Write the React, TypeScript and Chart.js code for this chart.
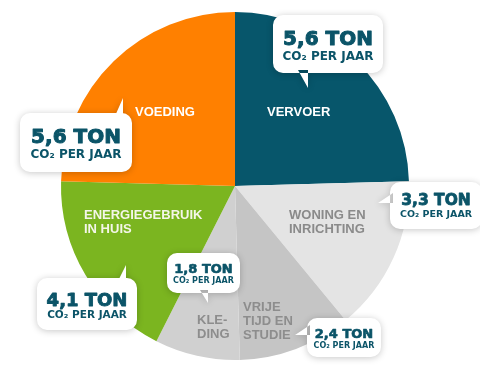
import React, { useEffect, useRef } from "react";
import { Chart, registerables } from "chart.js";

Chart.register(...registerables);

const categories = [
  "Vervoer",
  "Woning en inrichting",
  "Vrije tijd en studie",
  "Kleding",
  "Energiegebruik in huis",
  "Voeding",
];
const values = [5.6, 3.3, 2.4, 1.8, 4.1, 5.6];
const sliceLabelLines = [
  ["VERVOER"],
  ["WONING EN", "INRICHTING"],
  ["VRIJE", "TIJD EN", "STUDIE"],
  ["KLE-", "DING"],
  ["ENERGIEGEBRUIK", "IN HUIS"],
  ["VOEDING"],
];
const unitText = "CO₂ PER JAAR";

const sliceColors = ["#07566b", "#e4e4e4", "#c5c5c5", "#d0d0d0", "#7bb520", "#ff8000"];
const labelColors = ["#ffffff", "#8a8a8a", "#8d8d8d", "#8d8d8d", "#f4f6e8", "#ffffff"];
const calloutText = "#0b5468";

// layout, relative to pie centre (reference radius 174)
const labelPos = [
  [32, -70],
  [54, 33],
  [8, 125],
  [-38, 138],
  [-151, 33],
  [-100, -70],
];
type Callout = {
  box: number[];
  tip: number[];
  b1: number[];
  b2: number[];
  big: number;
  small: number;
  y1: number;
  y2: number;
};
const callouts: Callout[] = [
  { box: [38, -171, 110, 58], tip: [73, -98], b1: [63, -116], b2: [73, -116], big: 20, small: 12, y1: 30, y2: 45 },
  { box: [155, -4, 92, 47], tip: [143, 17], b1: [158, 7], b2: [158, 17], big: 15.5, small: 9.5, y1: 23, y2: 35 },
  { box: [72, 132, 74, 39], tip: [60, 149], b1: [75, 139], b2: [75, 149], big: 13, small: 8, y1: 20, y2: 29.5 },
  { box: [-68, 67, 73, 40], tip: [-27, 117], b1: [-35, 104], b2: [-27, 104], big: 13, small: 8, y1: 20, y2: 30 },
  { box: [-198, 92, 100, 52], tip: [-109, 79], b1: [-117, 95], b2: [-109, 95], big: 18, small: 10.5, y1: 28, y2: 40 },
  { box: [-215, -73, 112, 59], tip: [-112, -88], b1: [-120, -70], b2: [-112, -70], big: 20, small: 12, y1: 30, y2: 45 },
];

const fmt = (v: number) => v.toFixed(1).replace(".", ",") + " TON";

const overlayPlugin = {
  id: "overlay",
  afterDraw(chart: any) {
    const meta = chart.getDatasetMeta(0);
    const arc = meta.data[0];
    if (!arc) return;
    const cx = arc.x;
    const cy = arc.y;
    const s = arc.outerRadius / 174;
    const ctx = chart.ctx as CanvasRenderingContext2D;
    ctx.save();
    // slice labels
    ctx.textAlign = "left";
    ctx.textBaseline = "alphabetic";
    ctx.font = "bold 13px 'Liberation Sans', Arial, sans-serif";
    sliceLabelLines.forEach((lines, i) => {
      ctx.fillStyle = labelColors[i];
      const [dx, dy] = labelPos[i];
      lines.forEach((ln, j) => {
        ctx.fillText(ln, cx + dx * s, cy + (dy + j * 13.8) * s);
      });
    });
    // callouts
    callouts.forEach((c, i) => {
      const X = (v: number) => cx + v * s;
      const Y = (v: number) => cy + v * s;
      const [bx, by, bw, bh] = c.box;
      ctx.save();
      ctx.beginPath();
      ctx.roundRect(X(bx), Y(by), bw * s, bh * s, 10 * s);
      ctx.moveTo(X(c.b1[0]), Y(c.b1[1]));
      ctx.lineTo(X(c.tip[0]), Y(c.tip[1]));
      ctx.lineTo(X(c.b2[0]), Y(c.b2[1]));
      ctx.closePath();
      ctx.shadowColor = "rgba(0,0,0,0.22)";
      ctx.shadowBlur = 7;
      ctx.shadowOffsetX = 0;
      ctx.shadowOffsetY = 1;
      ctx.fillStyle = "#ffffff";
      ctx.fill();
      ctx.restore();
      ctx.fillStyle = calloutText;
      ctx.strokeStyle = calloutText;
      ctx.lineJoin = "round";
      ctx.textAlign = "center";
      const mx = X(bx + bw / 2);
      ctx.font = `bold ${c.big * s}px 'DejaVu Sans', sans-serif`;
      ctx.lineWidth = c.big * 0.05;
      ctx.fillText(fmt(values[i]), mx, Y(by + c.y1));
      ctx.strokeText(fmt(values[i]), mx, Y(by + c.y1));
      ctx.font = `bold ${c.small * s}px 'DejaVu Sans', sans-serif`;
      ctx.fillText(unitText, mx, Y(by + c.y2));
    });
    ctx.restore();
  },
};

export default function App() {
  const ref = useRef<HTMLCanvasElement | null>(null);
  useEffect(() => {
    document.body.style.margin = "0";
    const chart = new Chart(ref.current as HTMLCanvasElement, {
      type: "pie",
      data: {
        labels: categories,
        datasets: [
          {
            data: values,
            backgroundColor: sliceColors,
            borderWidth: 0,
          },
        ],
      },
      options: {
        animation: false,
        responsive: false,
        layout: { padding: { left: 61, right: 71, top: 12, bottom: 31 } },
        plugins: {
          legend: { display: false },
          tooltip: { enabled: false },
        },
      },
      plugins: [overlayPlugin],
    });
    return () => chart.destroy();
  }, []);
  return (
    <div style={{ width: 480, height: 391, background: "#ffffff" }}>
      <canvas ref={ref} width={480} height={391} />
    </div>
  );
}
